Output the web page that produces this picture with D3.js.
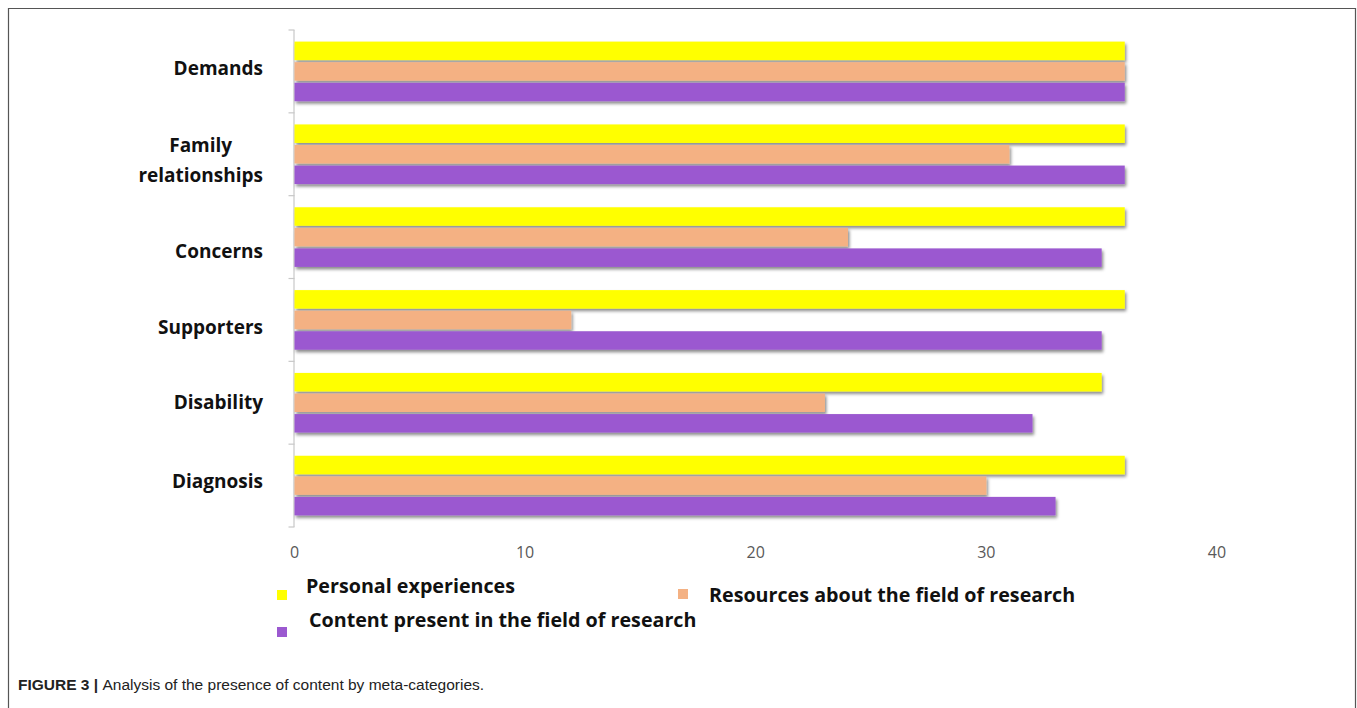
<!DOCTYPE html>
<html>
<head>
<meta charset="utf-8">
<script src="https://cdnjs.cloudflare.com/ajax/libs/d3/7.8.5/d3.min.js"></script>
<style>
  body { margin: 0; background: #fff; }
  svg { display: block; }
</style>
</head>
<body>
<div id="chart"></div>
<script>
var categories = ["Demands", "Family relationships", "Concerns", "Supporters", "Disability", "Diagnosis"];
var seriesNames = ["Personal experiences", "Resources about the field of research", "Content present in the field of research"];
var personal  = [36, 36, 36, 36, 35, 36];
var resources = [36, 31, 24, 12, 23, 30];
var content   = [36, 36, 35, 35, 32, 33];
var xTicks = [0, 10, 20, 30, 40];

var colors = ["#ffff00", "#f4b183", "#9b59d0"];

var width = 1357, height = 708;

var svg = d3.select("#chart").append("svg")
    .attr("width", width)
    .attr("height", height);

// frame round the figure (open at the bottom)
svg.append("path")
    .attr("d", "M8.5,708 V8.5 H1355.5 V708")
    .attr("fill", "none")
    .attr("stroke", "#555")
    .attr("stroke-width", 1.2);

var defs = svg.append("defs");
var shadow = defs.append("filter").attr("id", "shadow")
    .attr("x", "-5%").attr("y", "-30%").attr("width", "110%").attr("height", "170%");
shadow.append("feDropShadow")
    .attr("dx", 1.5).attr("dy", 2.5).attr("stdDeviation", 1.6)
    .attr("flood-color", "#000").attr("flood-opacity", 0.45);

var x = d3.scaleLinear().domain([0, 40]).range([294.5, 1217]);

var y0 = d3.scaleBand().domain(categories).range([30, 527])
    .paddingInner(0.28).paddingOuter(0.14);

var y1 = d3.scaleBand().domain(d3.range(3)).range([0, y0.bandwidth()])
    .paddingInner(0.1);

var table = categories.map(function (c, i) {
    return { cat: c, values: [personal[i], resources[i], content[i]] };
});

// axis line with ticks at the band boundaries
var yAxis = svg.append("g");
yAxis.append("line")
    .attr("x1", x(0) - 0.5).attr("x2", x(0) - 0.5)
    .attr("y1", 30).attr("y2", 527)
    .attr("stroke", "#c8c8c8").attr("stroke-width", 1.2);
var bounds = categories.map(function (c) { return y0(c) - y0.step() * y0.paddingInner() / 2; });
bounds.push(527);
yAxis.selectAll(".tk").data(bounds).enter().append("line")
    .attr("x1", x(0) - 6).attr("x2", x(0))
    .attr("y1", function (d) { return d; }).attr("y2", function (d) { return d; })
    .attr("stroke", "#c8c8c8").attr("stroke-width", 1.2);

// bars
var groups = svg.selectAll(".grp").data(table).enter().append("g")
    .attr("class", "grp")
    .attr("transform", function (d) { return "translate(0," + y0(d.cat) + ")"; });

groups.selectAll("rect").data(function (d) { return d.values; }).enter().append("rect")
    .attr("x", x(0))
    .attr("y", function (d, i) { return y1(i); })
    .attr("width", function (d) { return x(d) - x(0); })
    .attr("height", y1.bandwidth())
    .attr("fill", function (d, i) { return colors[i]; })
    .attr("filter", "url(#shadow)");

// category labels (the source places them slightly off the band centres)
var labelFont = "'Open Sans', Lato, sans-serif";
var labelNudge = [-3, 6, 14, 7, -1, -5];
svg.selectAll(".cat").data(categories).enter().append("text")
    .attr("class", "cat")
    .attr("font-family", labelFont)
    .attr("font-weight", "bold")
    .attr("font-size", 19)
    .attr("fill", "#111")
    .each(function (d, k) {
        var t = d3.select(this);
        var lines = d === "Family relationships" ? ["Family", "relationships"] : [d];
        var cy = y0(d) + y0.bandwidth() / 2 + labelNudge[k];
        var lh = 30;
        lines.forEach(function (l, i) {
            t.append("tspan")
                .attr("y", cy + (i - (lines.length - 1) / 2) * lh + 7)
                .text(l);
        });
        var w = 0;
        t.selectAll("tspan").each(function () { w = Math.max(w, this.getComputedTextLength()); });
        t.attr("text-anchor", "middle");
        t.selectAll("tspan").attr("x", 263 - w / 2);
    });

// x tick labels
svg.selectAll(".xt").data(xTicks).enter().append("text")
    .attr("x", function (d) { return x(d); })
    .attr("y", 558)
    .attr("text-anchor", "middle")
    .attr("font-family", "'Open Sans', sans-serif")
    .attr("font-size", 16)
    .attr("fill", "#595959")
    .text(function (d) { return d; });

// legend
var legendPos = [
    { sx: 277, sy: 590, tx: 306, ty: 593 },
    { sx: 678, sy: 589, tx: 709, ty: 602 },
    { sx: 277, sy: 627, tx: 309, ty: 627 }
];
var legend = svg.selectAll(".lg").data(seriesNames).enter().append("g");
legend.append("rect")
    .attr("x", function (d, i) { return legendPos[i].sx; })
    .attr("y", function (d, i) { return legendPos[i].sy; })
    .attr("width", 10).attr("height", 10)
    .attr("fill", function (d, i) { return colors[i]; });
legend.append("text")
    .attr("x", function (d, i) { return legendPos[i].tx; })
    .attr("y", function (d, i) { return legendPos[i].ty; })
    .attr("font-family", labelFont)
    .attr("font-weight", "bold")
    .attr("font-size", 19.7)
    .attr("fill", "#111")
    .text(function (d) { return d; });

// caption
var cap = svg.append("text")
    .attr("x", 18).attr("y", 690)
    .attr("font-family", "'Liberation Sans', Arial, sans-serif")
    .attr("font-size", 15.5)
    .attr("fill", "#222");
cap.append("tspan").attr("font-weight", "bold").text("FIGURE 3 | ");
cap.append("tspan").text("Analysis of the presence of content by meta-categories.");
</script>
</body>
</html>
